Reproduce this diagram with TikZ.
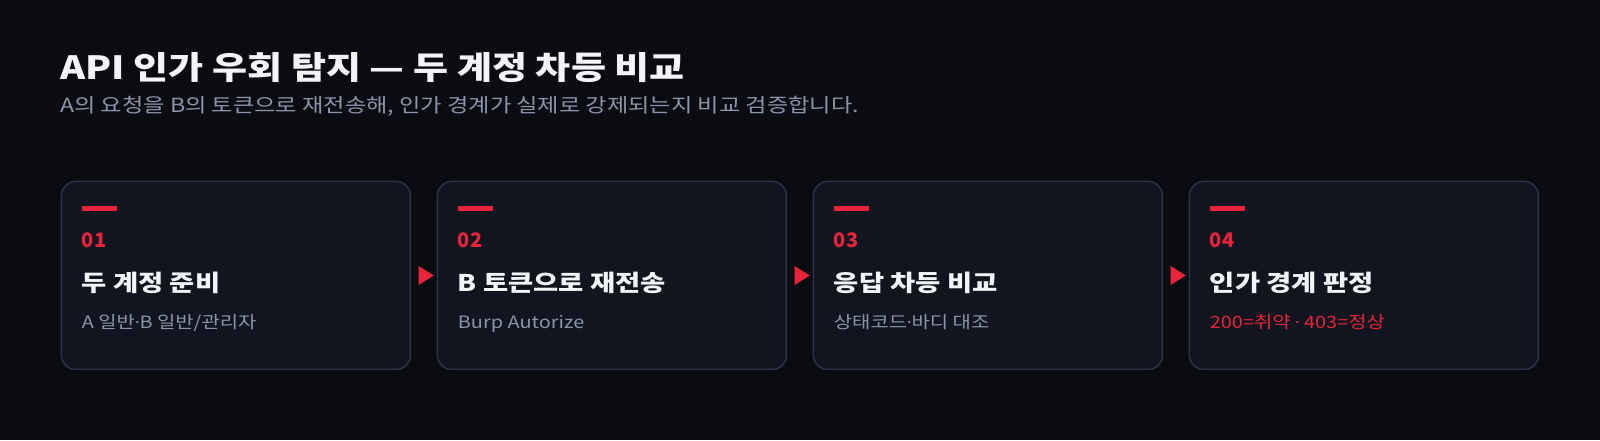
\documentclass[tikz,border=0pt]{standalone}
\usepackage{fontspec}
\setmainfont{Noto Sans CJK KR}
\newfontfamily\widefont[FakeStretch=1.19]{Noto Sans CJK KR}
\newfontfamily\notefont[FakeStretch=1.17]{Noto Sans CJK KR}
\newfontfamily\dotfont{Noto Sans}
\usetikzlibrary{shapes.geometric,calc}

\definecolor{bgcol}{RGB}{10,12,18}
\definecolor{cardcol}{RGB}{17,21,32}
\definecolor{edgecol}{RGB}{43,50,66}
\definecolor{accent}{RGB}{232,36,58}
\definecolor{titlecol}{RGB}{242,244,248}
\definecolor{mutedcol}{RGB}{139,149,168}

\begin{document}
\begin{tikzpicture}[x=1pt, y=-1pt,
	card/.style={draw=edgecol, line width=1.5pt, fill=cardcol, rounded corners=14pt, anchor=north west, minimum width=349pt, minimum height=188pt, inner sep=0},
	num/.style={anchor=base west, inner sep=0, text=accent, font=\fontsize{20}{24}\selectfont\bfseries},
	head/.style={anchor=base west, inner sep=0, text=titlecol, font=\widefont\fontsize{23}{27}\selectfont\bfseries},
	note/.style={anchor=base west, inner sep=0, text=mutedcol, font=\notefont\fontsize{17}{21}\selectfont},
	tip/.style={isosceles triangle, isosceles triangle stretches, fill=accent, minimum height=15pt, minimum width=19pt, inner sep=0}]
		\fill[bgcol] (0,0) rectangle (1600,440);
		\useasboundingbox (0,0) rectangle (1600,440);

		\node[anchor=base west, inner sep=0, text=titlecol, font=\widefont\fontsize{32}{38}\selectfont\bfseries] (title) at (60,79.3) {API 인가 우회 탐지 — 두 계정 차등 비교};
		\node[anchor=base west, inner sep=0, text=mutedcol, font=\widefont\fontsize{19.5}{23}\selectfont] (subtitle) at (60,112.7) {A의 요청을 B의 토큰으로 재전송해, 인가 경계가 실제로 강제되는지 비교 검증합니다.};

		\node[card] (c1) at (60.7,180.7) {};
		\node[card] (c2) at (436.7,180.7) {};
		\node[card] (c3) at (812.7,180.7) {};
		\node[card] (c4) at (1188.7,180.7) {};

		\fill[accent] (81.7,206) rectangle ++(35,5);
		\node[num] (n1) at (81.7,247.7) {01};
		\node[head] (h1) at (81.7,291.7) {두 계정 준비};
		\node[note] (s1) at (81.7,328.3) {A 일반{\dotfont ·}B 일반/관리자};

		\fill[accent] (457.7,206) rectangle ++(35,5);
		\node[num] (n2) at (457.7,247.7) {02};
		\node[head] (h2) at (457.7,291.7) {B 토큰으로 재전송};
		\node[note] (s2) at (457.7,328.3) {Burp Autorize};

		\fill[accent] (833.7,206) rectangle ++(35,5);
		\node[num] (n3) at (833.7,247.7) {03};
		\node[head] (h3) at (833.7,291.7) {응답 차등 비교};
		\node[note] (s3) at (833.7,328.3) {상태코드{\dotfont ·}바디 대조};

		\fill[accent] (1209.7,206) rectangle ++(35,5);
		\node[num] (n4) at (1209.7,247.7) {04};
		\node[head] (h4) at (1209.7,291.7) {인가 경계 판정};
		\node[note, text=accent] (s4) at (1209.7,328.3) {200=취약 {\dotfont ·} 403=정상};

		\node[tip] (t12) at ($(c1.east)!.5!(c2.west)$) {};
		\node[tip] (t23) at ($(c2.east)!.5!(c3.west)$) {};
		\node[tip] (t34) at ($(c3.east)!.5!(c4.west)$) {};
	\end{tikzpicture}
\end{document}
